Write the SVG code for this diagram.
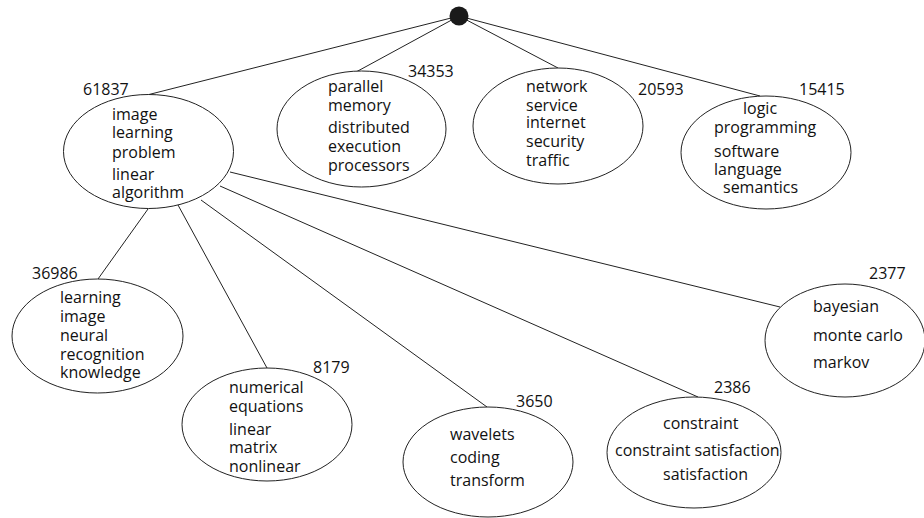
<svg xmlns="http://www.w3.org/2000/svg" width="924" height="518" viewBox="0 0 924 518">
<style>
.n ellipse{fill:#fff;stroke:#222;stroke-width:1}
text{font-family:"Open Sans","Noto Sans",sans-serif;font-size:16px;fill:#111}
.e line{stroke:#222;stroke-width:1}
</style>
<rect width="924" height="518" fill="#fff"/>
<g class="e" id="connectors">
<line x1="459" y1="16" x2="147" y2="95"/>
<line x1="459" y1="16" x2="356" y2="72"/>
<line x1="459" y1="16" x2="558" y2="68"/>
<line x1="459" y1="16" x2="760" y2="96"/>
<line x1="148" y1="209" x2="98" y2="279"/>
<line x1="178" y1="205" x2="267" y2="368"/>
<line x1="201" y1="200" x2="487" y2="407"/>
<line x1="220" y1="186" x2="698" y2="397"/>
<line x1="230" y1="172" x2="780" y2="307"/>
</g>
<g id="root"><circle cx="459" cy="16" r="9.5" fill="#1a1a1a"/></g>
<g class="n" id="n61837">
<ellipse cx="148.5" cy="151.5" rx="85" ry="57"/>
<text x="83" y="95">61837</text>
<text x="112" y="120">image</text>
<text x="112" y="138">learning</text>
<text x="112" y="158">problem</text>
<text x="112" y="180">linear</text>
<text x="112" y="198">algorithm</text>
</g>
<g class="n" id="n34353">
<ellipse cx="361.5" cy="129" rx="84.5" ry="58"/>
<text x="408" y="77">34353</text>
<text x="328" y="92">parallel</text>
<text x="328" y="111">memory</text>
<text x="328" y="133">distributed</text>
<text x="328" y="152">execution</text>
<text x="328" y="171">processors</text>
</g>
<g class="n" id="n20593">
<ellipse cx="558" cy="126" rx="85" ry="58"/>
<text x="638" y="95">20593</text>
<text x="526" y="92">network</text>
<text x="526" y="111">service</text>
<text x="526" y="128">internet</text>
<text x="526" y="147">security</text>
<text x="526" y="166">traffic</text>
</g>
<g class="n" id="n15415">
<ellipse cx="766" cy="152.5" rx="85" ry="56.5"/>
<text x="799" y="95">15415</text>
<text x="743" y="114">logic</text>
<text x="714" y="133">programming</text>
<text x="714" y="157">software</text>
<text x="714" y="175">language</text>
<text x="723" y="193">semantics</text>
</g>
<g class="n" id="n36986">
<ellipse cx="97.5" cy="336" rx="85.5" ry="57"/>
<text x="32" y="279">36986</text>
<text x="60" y="303">learning</text>
<text x="60" y="322">image</text>
<text x="60" y="341">neural</text>
<text x="60" y="360">recognition</text>
<text x="60" y="378">knowledge</text>
</g>
<g class="n" id="n8179">
<ellipse cx="267" cy="424.5" rx="85" ry="56.5"/>
<text x="313" y="373">8179</text>
<text x="229" y="393">numerical</text>
<text x="229" y="412">equations</text>
<text x="229" y="435">linear</text>
<text x="229" y="453">matrix</text>
<text x="229" y="472">nonlinear</text>
</g>
<g class="n" id="n3650">
<ellipse cx="488" cy="462" rx="85" ry="55"/>
<text x="516" y="407">3650</text>
<text x="450" y="440">wavelets</text>
<text x="450" y="463">coding</text>
<text x="450" y="486">transform</text>
</g>
<g class="n" id="n2386">
<ellipse cx="694" cy="452.5" rx="87" ry="55.5"/>
<text x="714" y="393">2386</text>
<text x="663" y="429">constraint</text>
<text x="615" y="456">constraint satisfaction</text>
<text x="663" y="480">satisfaction</text>
</g>
<g class="n" id="n2377">
<ellipse cx="845" cy="340.5" rx="80" ry="56.5"/>
<text x="869" y="279">2377</text>
<text x="813" y="312">bayesian</text>
<text x="813" y="341">monte carlo</text>
<text x="813" y="368">markov</text>
</g>
</svg>
